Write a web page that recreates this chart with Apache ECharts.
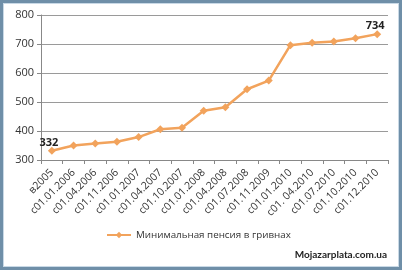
<!DOCTYPE html>
<html>
<head>
<meta charset="utf-8">
<script src="https://cdn.jsdelivr.net/npm/echarts@6/dist/echarts.min.js"></script>
<style>
html,body{margin:0;padding:0;background:#fff;}
#frame{position:absolute;left:0;top:0;width:396px;height:264px;border:3px solid #6f8fa8;box-shadow:inset 0 0 0 1px #c9d9e6;}
#chart{position:absolute;left:0;top:0;width:402px;height:270px;}
</style>
</head>
<body>
<div id="frame"></div>
<div id="chart"></div>
<script>
const categories = ["в2005","с01.01.2006","с01.04.2006","с01.11.2006","с01.01.2007","с01.04.2007","с01.10.2007","с01.01.2008","с01.04.2008","с01.07.2008","с01.11.2009","с01.01.2010","с01. 04.2010","с01.07.2010","с01.10.2010","с01.12.2010"];
const pension = [332,350,357,363,379,406,411,470,482,544,574,696,704,709,720,734];
const labelledIdx = [0, 15];
const seriesName = "Минимальная пенсия в гривнах";
const watermark = "Mojazarplata.com.ua";

const chart = echarts.init(document.getElementById('chart'), null, {renderer:'canvas'});
const fontFam = "'Open Sans', 'DejaVu Sans', sans-serif";
const labelOffsets = {0:[-3,6], 15:[-2,5]};
chart.setOption({
  animation:false,
  textStyle:{fontFamily:fontFam},
  grid:{left:41, right:14, top:15, bottom:110, containLabel:false},
  legend:{
    bottom:25, left:101,
    data:[seriesName],
    itemWidth:24, itemHeight:8, itemGap:6,
    textStyle:{fontSize:9.8, color:'#333', fontFamily:fontFam}
  },
  xAxis:{
    type:'category', data:categories, boundaryGap:true,
    axisLine:{lineStyle:{color:'#888'}},
    axisTick:{show:true, length:4, lineStyle:{color:'#888'}, alignWithLabel:false},
    axisLabel:{rotate:45, fontSize:10.5, color:'#333', margin:11, interval:0, fontFamily:fontFam}
  },
  yAxis:{
    type:'value', min:300, max:800, interval:100,
    axisLine:{show:true, lineStyle:{color:'#888'}},
    axisTick:{show:true, length:4, lineStyle:{color:'#888'}},
    axisLabel:{fontSize:11, color:'#333', margin:7, fontFamily:fontFam},
    splitLine:{lineStyle:{color:'#9a9a9a', width:1}}
  },
  series:[{
    name:seriesName, type:'line',
    data:pension.map((v,i)=>labelledIdx.includes(i)?{value:v,label:{show:true, offset:labelOffsets[i]}}:v),
    symbol:'diamond', symbolSize:8,
    lineStyle:{color:'#f2a35c', width:2.5},
    itemStyle:{color:'#f2a35c'},
    label:{show:false, position:'top', fontSize:11, fontWeight:'bold', color:'#222', distance:4, fontFamily:fontFam}
  }],
  graphic:[{
    type:'text', right:15, bottom:10,
    style:{text:watermark, fontSize:10, fontWeight:'bold', fill:'#222', fontFamily:"Lato, 'Open Sans', sans-serif"}
  }]
});
</script>
</body>
</html>
